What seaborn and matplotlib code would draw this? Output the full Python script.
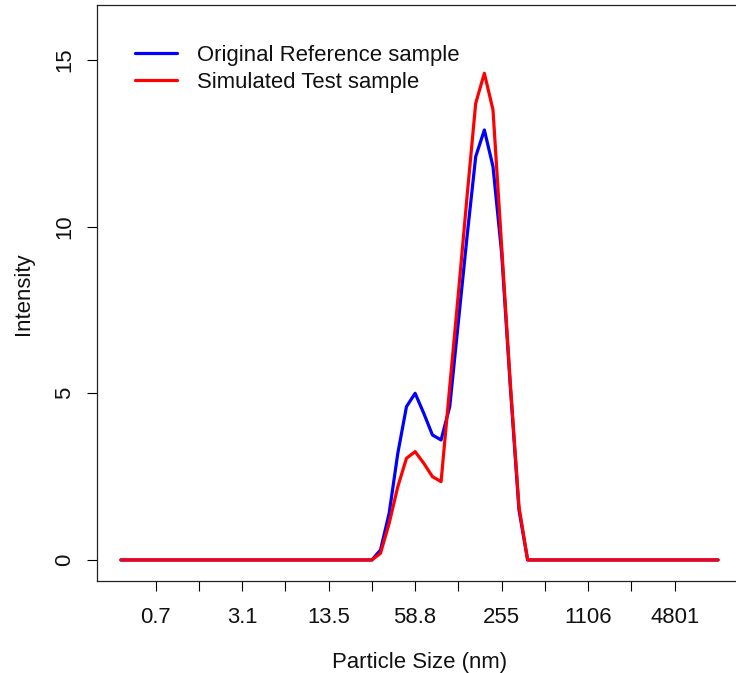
import numpy as np
import pandas as pd
import matplotlib
matplotlib.use("Agg")
import matplotlib.pyplot as plt
import seaborn as sns

# Size-bin index (1..70, log-spaced sizes from 0.4 nm to 10000 nm)
bins = list(range(1, 71))

# Intensity per bin for each sample (bins 31..47 carry signal; rest zero)
reference_signal = [0.3, 1.4, 3.2, 4.6, 5.0, 4.4, 3.75, 3.6, 4.6,
                    7.15, 9.7, 12.1, 12.9, 11.8, 9.2, 5.2, 1.5]
test_signal = [0.2, 1.1, 2.2, 3.05, 3.25, 2.9, 2.5, 2.35, 5.2,
               8.0, 10.9, 13.7, 14.6, 13.5, 9.4, 5.3, 1.6]
reference = [0.0] * 30 + reference_signal + [0.0] * 23
test = [0.0] * 30 + test_signal + [0.0] * 23

series_names = ["Original Reference sample", "Simulated Test sample"]
series_colors = ["#0000FF", "#FF0000"]

# Axis ticks: every fifth bin, size labels on alternate ticks
tick_bins = [5, 10, 15, 20, 25, 30, 35, 40, 45, 50, 55, 60, 65]
tick_labels = ["0.7", "", "3.1", "", "13.5", "", "58.8", "", "255", "", "1106", "", "4801"]
y_ticks = [0, 5, 10, 15]

df = pd.DataFrame({
    "bin": bins * 2,
    "intensity": reference + test,
    "sample": [series_names[0]] * len(bins) + [series_names[1]] * len(bins),
})

sns.set_style("white")
plt.rcParams["font.family"] = ["Liberation Sans", "DejaVu Sans"]
FS = 15.9

fig = plt.figure(figsize=(7.36, 6.73), dpi=100)
W, H = 736, 673
left, right, top, bottom = 97, 741.9, 5.3, 581.3
ax = fig.add_axes([left / W, 1 - bottom / H, (right - left) / W, (bottom - top) / H])

sns.lineplot(data=df, x="bin", y="intensity", hue="sample",
             palette=dict(zip(series_names, series_colors)),
             linewidth=2.3, ax=ax, legend=False, estimator=None)

ax.set_xlim(1 - 0.04 * 69, 70 + 0.04 * 69)
ax.set_ylim(0 - 0.04 * 16, 16 + 0.04 * 16)

ax.set_xticks(tick_bins)
ax.set_xticklabels(tick_labels)
ax.set_yticks(y_ticks)
ax.set_yticklabels([str(v) for v in y_ticks], rotation=90, va="center")

ax.tick_params(axis="both", direction="out", length=7.5, width=0.8,
               color="black", labelsize=FS, labelcolor="#111111")
ax.tick_params(axis="x", pad=11.3)
ax.tick_params(axis="y", pad=8)
ax.xaxis.set_ticks_position("bottom")
ax.yaxis.set_ticks_position("left")

for s in ax.spines.values():
    s.set_visible(True)
    s.set_color("#222222")
    s.set_linewidth(0.9)

ax.set_xlabel("Particle Size (nm)", fontsize=FS, color="#111111", labelpad=17)
ax.set_ylabel("Intensity", fontsize=FS, color="#111111", labelpad=15)

handles = [plt.Line2D([], [], color=c, linewidth=2.3) for c in series_colors]
leg = ax.legend(handles, series_names, loc="upper left",
                bbox_to_anchor=((135 - left) / (right - left), (bottom - 45) / (bottom - top)),
                frameon=False, fontsize=FS, handlelength=1.9, handletextpad=0.9,
                labelspacing=0.26, borderaxespad=0, borderpad=0)
for t in leg.get_texts():
    t.set_color("#111111")

fig.savefig("out.png", dpi=100)
